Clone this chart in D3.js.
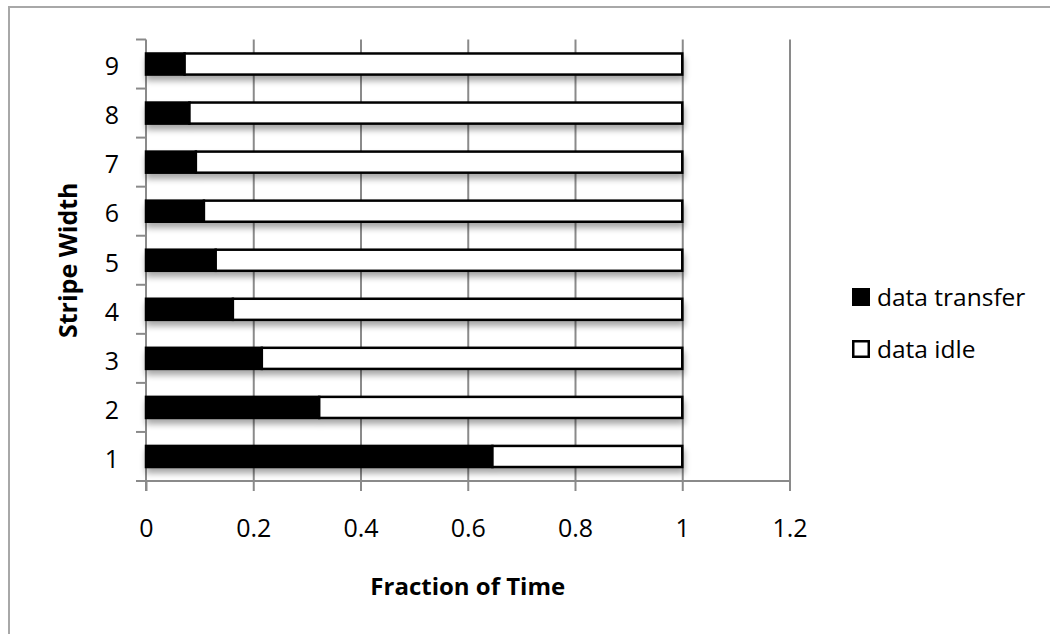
<!DOCTYPE html>
<html>
<head>
<meta charset="utf-8">
<script src="https://cdn.jsdelivr.net/npm/d3@7"></script>
<style>
  html, body { margin: 0; padding: 0; background: #fff; }
  svg { display: block; }
  text { font-family: "Open Sans", "Liberation Sans", sans-serif; fill: #000; }
</style>
</head>
<body>
<svg id="chart" width="1050" height="634"></svg>
<script>
// Stripe widths (categories) and the share of time spent per state
const stripeWidths = ["1", "2", "3", "4", "5", "6", "7", "8", "9"];
const dataTransfer = [0.646, 0.323, 0.216, 0.162, 0.130, 0.108, 0.093, 0.081, 0.072];
const dataIdle     = [0.354, 0.677, 0.784, 0.838, 0.870, 0.892, 0.907, 0.919, 0.928];
const xTicks = [0, 0.2, 0.4, 0.6, 0.8, 1, 1.2];
const seriesNames = ["data transfer", "data idle"];

const svg = d3.select("#chart");
const plot = { left: 146, right: 789.5, top: 39.5, bottom: 481 };
const gridColor = "#8a8a8a";

// Outer chart frame
svg.append("rect")
  .attr("x", 9).attr("y", 7)
  .attr("width", 1200).attr("height", 800)
  .attr("fill", "none").attr("stroke", "#a8a8a8").attr("stroke-width", 2);

// Soft shadow under each bar
const defs = svg.append("defs");
const shadow = defs.append("filter").attr("id", "barShadow")
  .attr("x", "-5%").attr("y", "-40%").attr("width", "110%").attr("height", "200%");
shadow.append("feGaussianBlur").attr("in", "SourceAlpha").attr("stdDeviation", 3).attr("result", "blur");
shadow.append("feOffset").attr("in", "blur").attr("dx", 1).attr("dy", 5).attr("result", "off");
shadow.append("feComponentTransfer").attr("in", "off").attr("result", "shade")
  .append("feFuncA").attr("type", "linear").attr("slope", 0.35);
const merge = shadow.append("feMerge");
merge.append("feMergeNode").attr("in", "shade");
merge.append("feMergeNode").attr("in", "SourceGraphic");

const x = d3.scaleLinear().domain([0, 1.2]).range([plot.left, plot.right]);
const y = d3.scaleBand()
  .domain(stripeWidths.slice().reverse())
  .range([plot.top, plot.bottom])
  .paddingInner(0.57)
  .paddingOuter(0.285);

// Vertical gridlines
const xAxis = d3.axisBottom(x).tickValues(xTicks).tickSize(-(plot.bottom - plot.top)).tickFormat("");
const gx = svg.append("g").attr("transform", `translate(0,${plot.bottom})`).call(xAxis);
gx.select(".domain").remove();
gx.selectAll(".tick line").attr("stroke", gridColor).attr("stroke-width", 2);
gx.selectAll(".tick").filter(d => d === 0).remove();

// Tick marks below the horizontal axis, with labels
const xTickMarks = d3.axisBottom(x).tickValues(xTicks).tickSize(10).tickFormat(d => d3.format("")(d)).tickPadding(28);
const gx2 = svg.append("g").attr("transform", `translate(0,${plot.bottom})`).call(xTickMarks);
gx2.select(".domain").remove();
gx2.selectAll(".tick line").attr("stroke", gridColor).attr("stroke-width", 2);
gx2.selectAll(".tick text")
  .style("font-size", "25px")
  .attr("dy", "0.71em");

// Horizontal axis line, extended left across the y tick length
svg.append("line")
  .attr("x1", plot.left - 10).attr("x2", plot.right)
  .attr("y1", plot.bottom).attr("y2", plot.bottom)
  .attr("stroke", gridColor).attr("stroke-width", 2);

// Vertical axis with ticks at band boundaries
const bandEdges = y.domain().map(d => y(d) - y.step() * y.paddingInner() / 2).concat([plot.bottom]);
svg.append("line")
  .attr("x1", plot.left).attr("x2", plot.left)
  .attr("y1", plot.top).attr("y2", plot.bottom + 10)
  .attr("stroke", gridColor).attr("stroke-width", 2);
svg.append("g").selectAll("line").data(bandEdges).join("line")
  .attr("x1", plot.left - 10).attr("x2", plot.left)
  .attr("y1", d => d).attr("y2", d => d)
  .attr("stroke", gridColor).attr("stroke-width", 2);

const yAxis = d3.axisLeft(y).tickSize(0).tickPadding(27);
const gy = svg.append("g").attr("transform", `translate(${plot.left},0)`).call(yAxis);
gy.select(".domain").remove();
gy.selectAll(".tick text").style("font-size", "25px").attr("dy", "0.45em");

// Stacked bars
const rows = stripeWidths.map((w, i) => ({ w, transfer: dataTransfer[i], idle: dataIdle[i] }));
const barG = svg.append("g").attr("filter", "url(#barShadow)");
const rowG = barG.selectAll("g").data(rows).join("g");
rowG.append("rect")
  .attr("x", d => x(0))
  .attr("y", d => y(d.w))
  .attr("width", d => x(d.transfer) - x(0))
  .attr("height", y.bandwidth())
  .attr("fill", "#000").attr("stroke", "#000").attr("stroke-width", 2.5);
rowG.append("rect")
  .attr("x", d => x(d.transfer))
  .attr("y", d => y(d.w))
  .attr("width", d => x(d.transfer + d.idle) - x(d.transfer))
  .attr("height", y.bandwidth())
  .attr("fill", "#fff").attr("stroke", "#000").attr("stroke-width", 2.5);

// Axis titles
svg.append("text")
  .attr("x", (plot.left + plot.right) / 2).attr("y", 595)
  .attr("text-anchor", "middle")
  .style("font-size", "24px").style("font-weight", "bold")
  .text("Fraction of Time");
svg.append("text")
  .attr("transform", `translate(77,${(plot.top + plot.bottom) / 2}) rotate(-90)`)
  .attr("text-anchor", "middle")
  .style("font-size", "25px").style("font-weight", "bold")
  .text("Stripe Width");

// Legend
const legend = svg.append("g").attr("transform", "translate(852,288)");
const items = legend.selectAll("g").data(seriesNames).join("g")
  .attr("transform", (d, i) => `translate(0,${i * 52})`);
items.append("rect")
  .attr("x", (d, i) => i ? 1.25 : 0).attr("y", (d, i) => i ? 1.25 : 0)
  .attr("width", (d, i) => i ? 15.5 : 18).attr("height", (d, i) => i ? 15.5 : 18)
  .attr("fill", (d, i) => i ? "#fff" : "#000")
  .attr("stroke", "#000").attr("stroke-width", (d, i) => i ? 2.5 : 0);
items.append("text")
  .attr("x", 25).attr("y", 18)
  .style("font-size", "24.5px")
  .text(d => d);
</script>
</body>
</html>
